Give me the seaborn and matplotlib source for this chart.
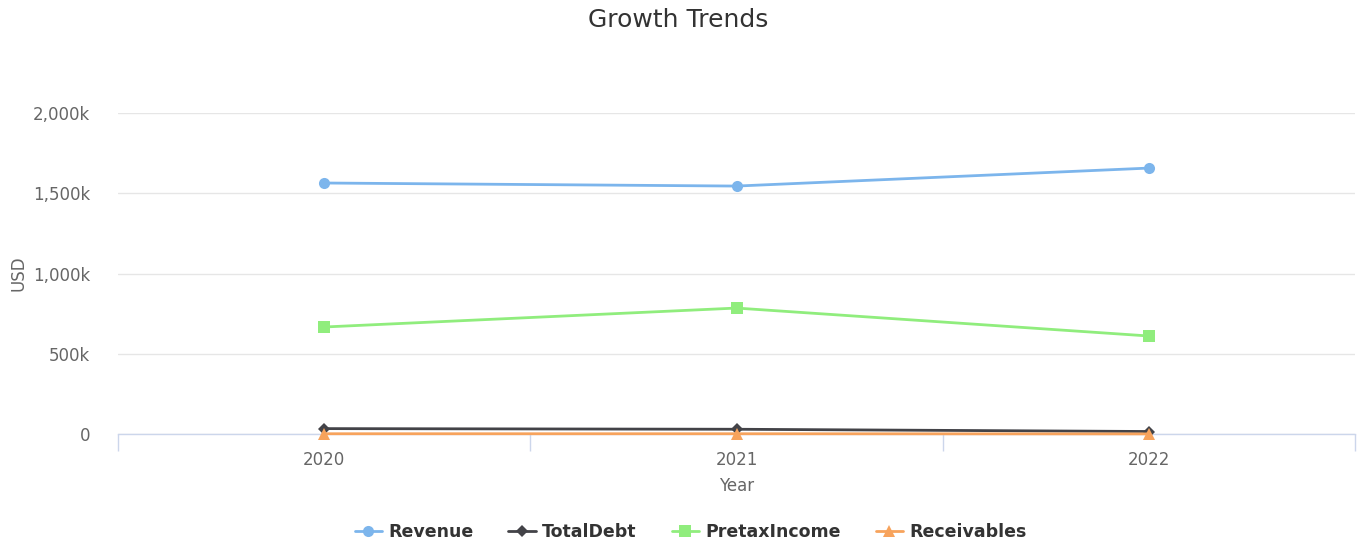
import pandas as pd
import matplotlib
matplotlib.use("Agg")
import matplotlib.pyplot as plt
import seaborn as sns
from matplotlib.ticker import FuncFormatter, FixedLocator

# values (USD)
years = [2020, 2021, 2022]
revenue = [1564000, 1545000, 1657000]
total_debt = [34000, 30000, 16000]
pretax_income = [667000, 785000, 611000]
receivables = [2000, 2000, 1000]

series_names = ['Revenue', 'TotalDebt', 'PretaxIncome', 'Receivables']
series_values = [revenue, total_debt, pretax_income, receivables]
colors = ['#7cb5ec', '#434348', '#90ed7d', '#f7a35c']
markers = ['o', 'D', 's', '^']
marker_sizes = [8, 6, 8, 8]

rows = []
for name, vals in zip(series_names, series_values):
    for i, v in enumerate(vals):
        rows.append({'pos': i, 'Year': years[i], 'Series': name, 'USD': v})
df = pd.DataFrame(rows)

sns.set_style('white')
plt.rcParams['font.family'] = ['DejaVu Sans']

fig = plt.figure(figsize=(13.57, 5.46), dpi=100)
ax = fig.add_axes([0.087, 0.205, 0.9115, 0.588])

sns.lineplot(data=df, x='pos', y='USD', hue='Series', style='Series',
             hue_order=series_names, style_order=series_names,
             palette=colors, markers=markers, dashes=False,
             linewidth=2, markersize=8, markeredgewidth=0, ax=ax)

# lines drawn over the axis line, like the original
for line, ms in zip(ax.lines, marker_sizes):
    line.set_clip_on(False)
    line.set_zorder(5)
    line.set_markersize(ms)

ax.set_xlim(-0.5, 2.5)
ax.set_ylim(0, 2000000)
ax.set_xticks(range(len(years)))
ax.set_xticklabels([str(y) for y in years])
ax.xaxis.set_minor_locator(FixedLocator([-0.5, 0.5, 1.5, 2.5]))
ax.tick_params(axis='x', which='major', length=0, labelsize=12, colors='#666666', pad=12)
ax.tick_params(axis='x', which='minor', bottom=True, length=12, color='#ccd6eb', width=1)
ax.set_yticks([0, 500000, 1000000, 1500000, 2000000])
ax.yaxis.set_major_formatter(FuncFormatter(lambda v, p: '0' if v == 0 else f'{int(v / 1000):,}k'))
ax.tick_params(axis='y', length=0, labelsize=12, colors='#666666', pad=20)

ax.grid(axis='y', color='#e6e6e6', linewidth=1)
ax.set_axisbelow(True)
for s in ['top', 'right', 'left']:
    ax.spines[s].set_visible(False)
ax.spines['bottom'].set_color('#ccd6eb')
ax.spines['bottom'].set_linewidth(1)
ax.spines['bottom'].set_zorder(2)

ax.set_xlabel('Year', fontsize=12, color='#666666', labelpad=6)
ax.set_ylabel('USD', fontsize=12, color='#666666')
ax.yaxis.set_label_coords(-0.073, 0.5)

fig.suptitle('Growth Trends', fontsize=18, color='#333333', y=0.985)

handles, labels = ax.get_legend_handles_labels()
ax.legend_.remove()
for h, ms in zip(handles, marker_sizes):
    h.set_markersize(ms)
leg = fig.legend(handles, labels, loc='lower center', bbox_to_anchor=(0.509, -0.02),
                 ncol=4, frameon=False, fontsize=12.5, handlelength=1.6, columnspacing=2.0,
                 handletextpad=0.35)
for t in leg.get_texts():
    t.set_fontweight('bold')
    t.set_color('#333333')

fig.savefig('out.png', dpi=100)
